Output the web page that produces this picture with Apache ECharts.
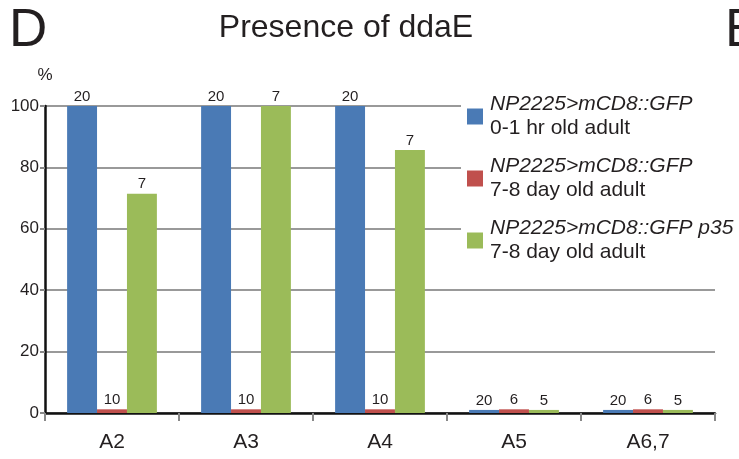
<!DOCTYPE html>
<html><head><meta charset="utf-8">
<script src="https://cdn.jsdelivr.net/npm/echarts@6/dist/echarts.min.js"></script>
<style>html,body{margin:0;padding:0;background:#fff}#c{width:739px;height:459px}</style>
</head><body><div id="c"></div>
<script>
var categories = ['A2', 'A3', 'A4', 'A5', 'A6,7'];
var yTicks = [0, 20, 40, 60, 80, 100];
var seriesNames = ['NP2225>mCD8::GFP|0-1 hr old adult', 'NP2225>mCD8::GFP|7-8 day old adult', 'NP2225>mCD8::GFP p35|7-8 day old adult'];
var young = [100, 100, 100, 1, 1];
var old = [1.2, 1.2, 1.2, 1.2, 1.2];
var oldP35 = [71.4, 100, 85.7, 1, 1];
var youngN = ['20', '20', '20', '20', '20'];
var oldN = ['10', '10', '10', '6', '6'];
var oldP35N = ['7', '7', '7', '5', '5'];
var colors = ['#4a7ab5', '#c0504d', '#9bbb59'];

var FONT = 'Liberation Sans, Arial, sans-serif';
function mk(i, vals, ns) {
  return {
    name: seriesNames[i], type: 'bar', data: vals, barGap: '0%', barCategoryGap: '33%',
    itemStyle: { color: colors[i] },
    label: { show: true, position: 'top', distance: 2, fontFamily: FONT, fontSize: 15, color: '#231f20',
      formatter: function (p) { return ns[p.dataIndex]; } }
  };
}
var chart = echarts.init(document.getElementById('c'));
chart.setOption({
  animation: false,
  textStyle: { fontFamily: FONT },
  title: [
    { text: 'Presence of ddaE', left: 341, top: 7, textAlign: 'center', textStyle: { fontFamily: FONT, fontSize: 32, fontWeight: 'normal', color: '#231f20' } },
    { text: 'D', left: 4, top: 0, textStyle: { fontFamily: FONT, fontSize: 53, fontWeight: 'normal', color: '#231f20' } },
    { text: 'E', left: 720, top: 0, textStyle: { fontFamily: FONT, fontSize: 53, fontWeight: 'normal', color: '#231f20' } }
  ],
  legend: {
    orient: 'vertical', left: 461, top: 92, itemWidth: 16, itemHeight: 16, itemGap: 17,
    backgroundColor: '#fff', padding: [2, 10, 2, 6],
    data: seriesNames.map(function (n) { return { name: n, icon: 'rect' }; }),
    formatter: function (n) { var p = n.split('|'); return '{i|' + p[0] + '}\n{n|' + p[1] + '}'; },
    textStyle: { padding: [0, 0, 0, 2], rich: {
      i: { fontFamily: FONT, fontSize: 21, fontStyle: 'italic', color: '#231f20', lineHeight: 24 },
      n: { fontFamily: FONT, fontSize: 21, color: '#231f20', lineHeight: 24 }
    } }
  },
  grid: { left: 45, right: 24, top: 106, bottom: 46, containLabel: false },
  xAxis: {
    type: 'category', data: categories,
    axisLine: { lineStyle: { color: '#111', width: 2.5 } },
    axisTick: { show: true, length: 8, lineStyle: { color: '#888', width: 2 } },
    axisLabel: { fontFamily: FONT, fontSize: 21, color: '#231f20', margin: 19 }
  },
  yAxis: {
    type: 'value', min: 0, max: 100, interval: 20, name: '%', nameGap: 22,
    nameTextStyle: { fontFamily: FONT, fontSize: 17, color: '#231f20', align: 'center' },
    axisLine: { show: true, lineStyle: { color: '#111', width: 2.5 } },
    axisTick: { show: true, length: 5, lineStyle: { color: '#888', width: 2 } },
    axisLabel: { fontFamily: FONT, fontSize: 17, color: '#231f20', margin: 6,
      formatter: function (v) { return yTicks.indexOf(v) >= 0 ? String(v) : ''; } },
    splitLine: { lineStyle: { color: '#999', width: 2 } }
  },
  series: [mk(0, young, youngN), mk(1, old, oldN), mk(2, oldP35, oldP35N)]
});
</script></body></html>
